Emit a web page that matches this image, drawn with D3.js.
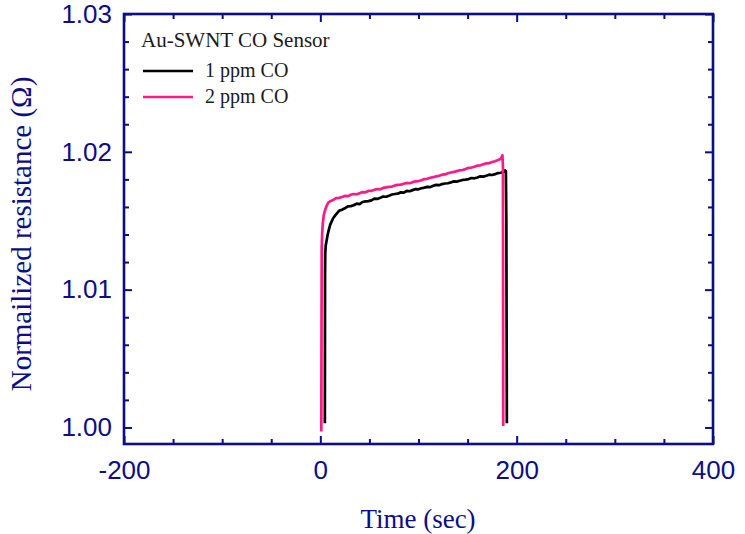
<!DOCTYPE html>
<html>
<head>
<meta charset="utf-8">
<script src="https://cdn.jsdelivr.net/npm/d3@7"></script>
<style>
  html, body { margin: 0; padding: 0; background: #fff; }
  svg { display: block; }
</style>
</head>
<body>
<script>
// ---- data ----
const xMajorTicks = [-200, 0, 200, 400];
const xMinorTicks = [-150, -100, -50, 50, 100, 150, 250, 300, 350];
const yMajorTicks = [1.00, 1.01, 1.02, 1.03];
const yMinorTicks = [1.002, 1.004, 1.006, 1.008, 1.012, 1.014, 1.016, 1.018, 1.022, 1.024, 1.026, 1.028];

const seriesNames = ["1 ppm CO", "2 ppm CO"];
const seriesColors = ["#000000", "#ff1a85"];

const blackTime = [4.6, 4.8, 5.0, 5.5, 6.5, 7.5, 8.5,
  10, 13, 16, 19, 22, 25, 28, 31, 34, 37, 40, 43, 46, 49, 52, 55, 58, 61, 64, 67, 70, 73, 76, 79,
  82, 85, 88, 91, 94, 97, 100, 103, 106, 109, 112, 115, 118, 121, 124, 127, 130, 133, 136, 139,
  142, 145, 148, 151, 154, 157, 160, 163, 166, 169, 172, 175, 178, 181, 184, 187,
  188, 189, 189.5, 190];
const blackValue = [1.0003, 1.0110, 1.0126, 1.0132, 1.0136, 1.0140, 1.0143,
  1.01470, 1.01518, 1.01546, 1.01572, 1.01580, 1.01590, 1.01604, 1.01606, 1.01612, 1.01624,
  1.01620, 1.01636, 1.01640, 1.01642, 1.01648, 1.01660, 1.01658, 1.01666, 1.01676, 1.01674,
  1.01682, 1.01690, 1.01694, 1.01696, 1.01706, 1.01704, 1.01716, 1.01714, 1.01722, 1.01730,
  1.01728, 1.01736, 1.01740, 1.01746, 1.01744, 1.01754, 1.01760, 1.01758, 1.01766, 1.01770,
  1.01772, 1.01778, 1.01786, 1.01784, 1.01790, 1.01796, 1.01798, 1.01802, 1.01810, 1.01808,
  1.01814, 1.01822, 1.01820, 1.01826, 1.01834, 1.01832, 1.01838, 1.01846, 1.01848, 1.01856,
  1.01865, 1.01860, 1.0150, 1.0003];

const pinkTime = [1.0, 1.4, 1.8, 2.5, 3.5, 5.0, 6.5, 8.0,
  10, 13, 16, 19, 22, 25, 28, 31, 34, 37, 40, 43, 46, 49, 52, 55, 58, 61, 64, 67, 70, 73, 76, 79,
  82, 85, 88, 91, 94, 97, 100, 103, 106, 109, 112, 115, 118, 121, 124, 127, 130, 133, 136, 139,
  142, 145, 148, 151, 154, 157, 160, 163, 166, 169, 172, 175, 178, 181, 184,
  185.5, 186, 186.3];
const pinkValue = [0.9997, 1.0130, 1.0140, 1.0148, 1.0154, 1.0158, 1.0161, 1.0163,
  1.01642, 1.01650, 1.01664, 1.01666, 1.01672, 1.01680, 1.01678, 1.01688, 1.01694, 1.01692,
  1.01700, 1.01708, 1.01706, 1.01716, 1.01716, 1.01724, 1.01730, 1.01728, 1.01738, 1.01742,
  1.01746, 1.01748, 1.01756, 1.01760, 1.01762, 1.01768, 1.01774, 1.01772, 1.01780, 1.01786,
  1.01788, 1.01794, 1.01802, 1.01804, 1.01812, 1.01816, 1.01822, 1.01826, 1.01834, 1.01836,
  1.01844, 1.01850, 1.01854, 1.01860, 1.01866, 1.01868, 1.01876, 1.01884, 1.01886, 1.01892,
  1.01900, 1.01902, 1.01910, 1.01916, 1.01918, 1.01926, 1.01932, 1.01940, 1.01950,
  1.01975, 1.0190, 1.0001];

// ---- layout ----
const W = 745, H = 534;
const L = 124, R = 713, T = 14, B = 444;
const axisColor = "#0d0d85";

const svg = d3.select("body").append("svg").attr("width", W).attr("height", H);

const x = d3.scaleLinear().domain([-200, 400]).range([L, R]);
const y = d3.scaleLinear().domain([0.9988, 1.03]).range([B, T]);

// series
const series = [
  blackTime.map((t, i) => [t, blackValue[i]]),
  pinkTime.map((t, i) => [t, pinkValue[i]])
];
const line = d3.line().x(d => x(d[0])).y(d => y(d[1]));
series.forEach((s, i) => {
  svg.append("path").datum(s)
    .attr("fill", "none")
    .attr("stroke", seriesColors[i])
    .attr("stroke-width", 2.7)
    .attr("stroke-linejoin", "round")
    .attr("d", line);
});

// axes
function styleAxis(g, showLabels) {
  g.select(".domain").remove();
  g.selectAll("line").attr("stroke", axisColor).attr("stroke-width", 2);
  g.selectAll("text")
    .attr("fill", axisColor)
    .style("font-family", "'Liberation Sans', Arial, sans-serif")
    .style("font-size", "26px");
  if (!showLabels) g.selectAll("text").remove();
}
const fmtY = d3.format(".2f");
const fmtX = d => String(d);
svg.append("g").attr("transform", `translate(0,${B})`)
  .call(d3.axisBottom(x).tickValues(xMajorTicks).tickSize(-8).tickPadding(17).tickFormat(fmtX))
  .call(g => styleAxis(g, true));
svg.append("g").attr("transform", `translate(0,${B})`)
  .call(d3.axisBottom(x).tickValues(xMinorTicks).tickSize(-5))
  .call(g => styleAxis(g, false));
svg.append("g").attr("transform", `translate(0,${T})`)
  .call(d3.axisTop(x).tickValues(xMajorTicks).tickSize(-8))
  .call(g => styleAxis(g, false));
svg.append("g").attr("transform", `translate(0,${T})`)
  .call(d3.axisTop(x).tickValues(xMinorTicks).tickSize(-5))
  .call(g => styleAxis(g, false));
svg.append("g").attr("transform", `translate(${L},0)`)
  .call(d3.axisLeft(y).tickValues(yMajorTicks).tickSize(-8).tickPadding(12).tickFormat(fmtY))
  .call(g => styleAxis(g, true));
svg.append("g").attr("transform", `translate(${L},0)`)
  .call(d3.axisLeft(y).tickValues(yMinorTicks).tickSize(-5))
  .call(g => styleAxis(g, false));
svg.append("g").attr("transform", `translate(${R},0)`)
  .call(d3.axisRight(y).tickValues(yMajorTicks).tickSize(-8))
  .call(g => styleAxis(g, false));
svg.append("g").attr("transform", `translate(${R},0)`)
  .call(d3.axisRight(y).tickValues(yMinorTicks).tickSize(-5))
  .call(g => styleAxis(g, false));

// frame
svg.append("rect")
  .attr("x", L).attr("y", T).attr("width", R - L).attr("height", B - T)
  .attr("fill", "none").attr("stroke", axisColor).attr("stroke-width", 2.6);

// axis titles
svg.append("text")
  .attr("x", 418).attr("y", 528)
  .attr("text-anchor", "middle")
  .attr("fill", axisColor)
  .style("font-family", "'Liberation Serif', 'Times New Roman', serif")
  .style("font-size", "27px")
  .text("Time (sec)");
svg.append("text")
  .attr("transform", "translate(31,234) rotate(-90)")
  .attr("text-anchor", "middle")
  .attr("fill", axisColor)
  .style("font-family", "'Liberation Serif', 'Times New Roman', serif")
  .style("font-size", "29px")
  .text("Normailized resistance (Ω)");

// legend
const legendFont = "'Liberation Serif', 'Times New Roman', serif";
svg.append("text")
  .attr("x", 141).attr("y", 47)
  .attr("fill", "#1a1a1a")
  .style("font-family", legendFont).style("font-size", "21px")
  .text("Au-SWNT CO Sensor");
seriesNames.forEach((name, i) => {
  const ly = 71 + i * 26;
  svg.append("line")
    .attr("x1", 143).attr("x2", 193).attr("y1", ly).attr("y2", ly)
    .attr("stroke", seriesColors[i]).attr("stroke-width", 2.6);
  svg.append("text")
    .attr("x", 205).attr("y", ly + 6)
    .attr("fill", "#1a1a1a")
    .style("font-family", legendFont).style("font-size", "20px")
    .text(name);
});
</script>
</body>
</html>
